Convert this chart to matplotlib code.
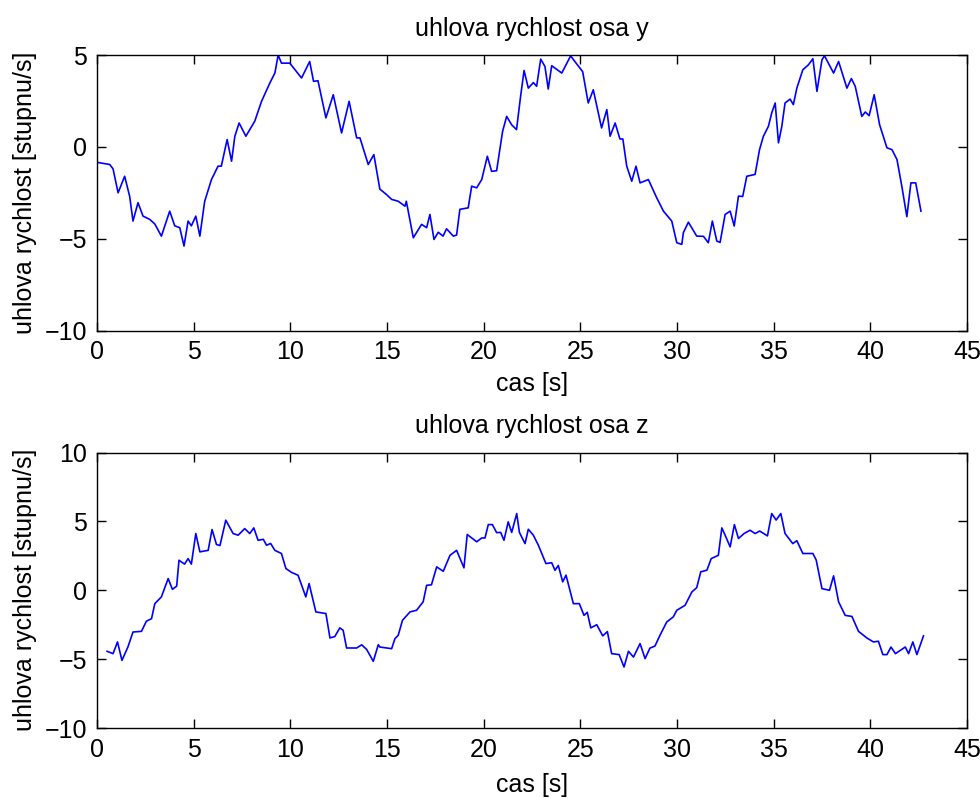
import matplotlib
matplotlib.use('Agg')
import matplotlib.pyplot as plt

# uhlova rychlost osa y  (cas [s], hodnota [stupnu/s])
t_y = [0.00, 0.66, 0.83, 1.09, 1.43, 1.69, 1.86, 2.12, 2.38, 2.73, 2.99, 3.33, 3.76, 4.02,
       4.28, 4.50, 4.71, 4.88, 5.11, 5.32, 5.57, 5.92, 6.26, 6.43, 6.73, 6.96, 7.13, 7.35,
       7.70, 8.16, 8.51, 8.94, 9.20, 9.37, 9.54, 9.97, 10.58, 11.00, 11.20, 11.43, 11.84,
       12.22, 12.65, 13.04, 13.43, 13.60, 14.03, 14.32, 14.63, 14.98, 15.24, 15.58, 15.93,
       16.00, 16.36, 16.79, 17.05, 17.22, 17.43, 17.65, 17.90, 18.08, 18.43, 18.60, 18.77,
       19.20, 19.38, 19.64, 19.90, 20.19, 20.41, 20.67, 20.98, 21.19, 21.45, 21.70, 21.91,
       22.09, 22.31, 22.57, 22.74, 22.95, 23.17, 23.34, 23.52, 24.04, 24.50, 24.73, 25.12,
       25.41, 25.67, 26.10, 26.37, 26.54, 26.80, 27.05, 27.20, 27.40, 27.66, 27.88, 28.09,
       28.52, 28.95, 29.30, 29.73, 29.99, 30.25, 30.33, 30.59, 31.02, 31.37, 31.62, 31.83,
       32.06, 32.23, 32.49, 32.75, 32.96, 33.18, 33.40, 33.61, 34.04, 34.27, 34.47, 34.73,
       34.90, 35.08, 35.25, 35.42, 35.59, 35.85, 36.02, 36.20, 36.51, 36.80, 37.03, 37.24,
       37.50, 37.63, 38.10, 38.36, 38.79, 39.02, 39.22, 39.56, 39.74, 39.94, 40.20, 40.48,
       40.86, 41.12, 41.38, 41.63, 41.89, 42.10, 42.35, 42.62]
w_y = [-0.84, -0.96, -1.2, -2.5, -1.6, -2.7, -4.04, -3.04, -3.77, -3.95, -4.2, -4.86, -3.5, -4.3,
       -4.4, -5.4, -4.04, -4.3, -3.77, -4.86, -2.96, -1.78, -1.05, -1.05, 0.4, -0.78, 0.58, 1.3,
       0.58, 1.4, 2.48, 3.48, 4.02, 5.0, 4.56, 4.56, 3.75, 4.65, 3.57, 3.6, 1.58,
       2.84, 0.76, 2.48, 0.49, 0.49, -0.96, -0.42, -2.3, -2.6, -2.86, -2.96, -3.23,
       -2.96, -4.95, -4.22, -4.4, -3.68, -5.04, -4.65, -4.86, -4.46, -4.86, -4.8, -3.4,
       -3.32, -2.14, -2.23, -1.78, -0.51, -1.33, -1.3, 0.85, 1.66, 1.2, 0.94, 2.75,
       4.16, 3.2, 3.5, 3.3, 4.78, 4.38, 3.15, 4.42, 4.02, 4.96, 4.63, 4.1,
       2.39, 3.11, 1.03, 2.03, 0.58, 1.3, 0.43, 0.43, -1.05, -1.87, -1.05, -1.96,
       -1.78, -2.77, -3.5, -4.04, -5.22, -5.31, -4.67, -4.1, -4.86, -4.87, -5.22, -4.04,
       -5.13, -5.2, -3.68, -3.5, -4.31, -2.68, -2.7, -1.6, -1.5, -0.15, 0.58, 1.12,
       1.85, 2.39, 0.22, 1.1, 2.39, 2.6, 2.3, 3.2, 4.2, 4.47, 4.8, 3.02,
       4.74, 4.96, 4.02, 4.65, 3.2, 3.72, 3.3, 1.66, 1.9, 1.7, 2.84, 1.21,
       -0.05, -0.15, -0.69, -2.14, -3.8, -1.96, -1.96, -3.5]

# uhlova rychlost osa z
t_z = [0.52, 0.83, 1.06, 1.29, 1.60, 1.86, 2.30, 2.55, 2.82, 2.99, 3.33, 3.68, 3.90, 4.12,
       4.24, 4.53, 4.71, 4.88, 5.11, 5.32, 5.75, 5.95, 6.18, 6.36, 6.66, 7.04, 7.30, 7.64,
       7.90, 8.11, 8.33, 8.60, 8.77, 8.98, 9.20, 9.54, 9.77, 10.06, 10.40, 10.80, 10.97,
       11.32, 11.84, 12.05, 12.30, 12.56, 12.73, 12.91, 13.43, 13.69, 13.95, 14.29, 14.55,
       14.63, 15.24, 15.41, 15.58, 15.80, 16.19, 16.53, 16.87, 17.05, 17.30, 17.57, 17.91,
       18.26, 18.60, 18.98, 19.15, 19.64, 19.90, 20.07, 20.24, 20.45, 20.67, 20.88, 21.05,
       21.27, 21.45, 21.71, 21.85, 22.14, 22.31, 22.57, 22.83, 23.22, 23.52, 23.69, 23.86,
       24.09, 24.26, 24.64, 24.95, 25.19, 25.36, 25.54, 25.85, 26.16, 26.40, 26.62, 27.01,
       27.26, 27.49, 27.75, 28.09, 28.35, 28.60, 28.86, 29.12, 29.47, 29.81, 29.99, 30.42,
       30.77, 31.02, 31.23, 31.55, 31.77, 32.14, 32.32, 32.49, 32.75, 32.97, 33.18, 33.47,
       33.78, 34.04, 34.28, 34.68, 34.90, 35.13, 35.37, 35.59, 35.99, 36.20, 36.51, 37.03,
       37.20, 37.50, 37.89, 38.10, 38.36, 38.70, 39.05, 39.39, 39.82, 40.16, 40.42, 40.65,
       40.86, 41.07, 41.30, 41.81, 41.98, 42.20, 42.41, 42.75]
w_z = [-4.43, -4.6, -3.75, -5.09, -4.11, -3.03, -2.98, -2.25, -2.06, -0.97, -0.48, 0.85, 0.07, 0.3,
       2.18, 1.9, 2.3, 1.9, 4.12, 2.79, 2.9, 4.41, 3.32, 3.25, 5.09, 4.12, 4.0, 4.48,
       4.12, 4.53, 3.63, 3.7, 3.27, 3.4, 2.9, 2.67, 1.58, 1.3, 1.09, -0.48, 0.49,
       -1.57, -1.69, -3.46, -3.36, -2.73, -2.9, -4.19, -4.19, -3.96, -4.3, -5.16, -3.95,
       -4.12, -4.24, -3.51, -3.27, -2.18, -1.57, -1.45, -0.84, 0.36, 0.4, 1.7, 1.38,
       2.54, 2.9, 1.63, 4.05, 3.52, 3.8, 3.8, 4.77, 4.77, 4.19, 4.2, 3.63,
       4.97, 4.2, 5.57, 4.2, 3.39, 4.43, 4.0, 3.27, 1.94, 2.0, 1.45, 1.8,
       0.61, 1.1, -0.97, -0.97, -1.82, -1.6, -2.73, -2.5, -3.31, -3.0, -4.6, -4.67,
       -5.57, -4.43, -4.85, -3.87, -4.96, -4.2, -4.05, -3.27, -2.3, -1.93, -1.45, -1.09,
       -0.12, 0.19, 1.34, 1.46, 2.3, 2.54, 4.53, 4.0, 3.15, 4.77, 3.76, 4.12,
       4.36, 4.12, 4.3, 3.95, 5.57, 5.1, 5.57, 4.12, 3.39, 3.6, 2.67, 2.67,
       2.2, 0.12, 0.0, 1.05, -0.84, -1.82, -1.9, -2.98, -3.46, -3.75, -3.7, -4.67,
       -4.67, -4.12, -4.6, -4.12, -4.6, -3.75, -4.67, -3.31]

plt.rcParams['font.family'] = ['Liberation Sans', 'DejaVu Sans']
plt.rcParams['font.size'] = 18

fig = plt.figure(figsize=(9.8, 7.98), dpi=100)
plt.subplots_adjust(left=0.099, right=0.9867, top=0.931, bottom=0.0877, hspace=0.443)


def styl(ax):
    ax.tick_params(direction='in', length=6.5, width=1.0, top=True, right=True,
                   labelsize=18, pad=7)
    for s in ax.spines.values():
        s.set_linewidth(1.0)
    ax.set_xlim(0, 45)
    ax.set_xticks(range(0, 46, 5))
    ax.yaxis.set_label_coords(-0.069, 0.5)


# osa y
plt.subplot(2, 1, 1)
plt.plot(t_y, w_y, color='#0000ff', linewidth=1.2)
plt.ylim(-10, 5)
plt.yticks([-10, -5, 0, 5])
plt.title('uhlova rychlost osa y', fontsize=18, pad=14)
plt.xlabel('cas [s]')
plt.ylabel('uhlova rychlost [stupnu/s]')
styl(plt.gca())
plt.gca().xaxis.set_label_coords(0.5, -0.149)

# osa z
plt.subplot(2, 1, 2)
plt.plot(t_z, w_z, color='#0000ff', linewidth=1.2)
plt.ylim(-10, 10)
plt.yticks([-10, -5, 0, 5, 10])
plt.title('uhlova rychlost osa z', fontsize=18, pad=14)
plt.xlabel('cas [s]')
plt.ylabel('uhlova rychlost [stupnu/s]')
styl(plt.gca())
plt.gca().xaxis.set_label_coords(0.5, -0.164)

plt.savefig('out.png', dpi=100)
